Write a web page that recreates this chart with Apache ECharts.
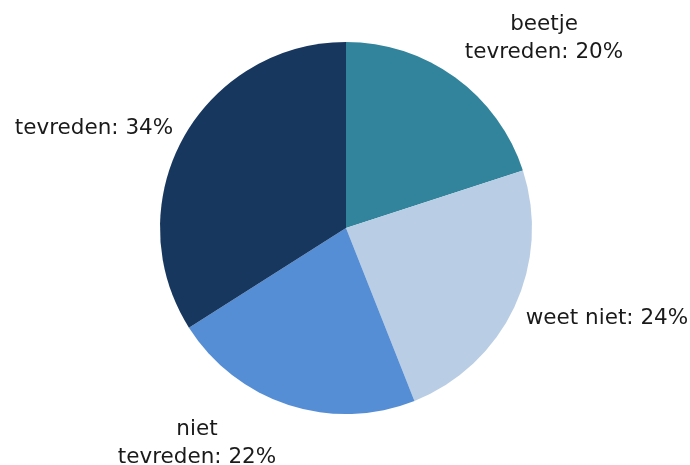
<!DOCTYPE html>
<html>
<head>
<meta charset="utf-8">
<script src="https://cdn.jsdelivr.net/npm/echarts@6/dist/echarts.min.js"></script>
<style>
  html, body { margin: 0; padding: 0; background: #fff; }
  #chart { width: 690px; height: 465px; }
</style>
</head>
<body>
<div id="chart"></div>
<script>
const categories = ['beetje\ntevreden', 'weet niet', 'niet\ntevreden', 'tevreden']
const values = [20, 24, 22, 34]
const colors = ['#31849B', '#B9CDE5', '#558ED5', '#17375E']

// label anchors (centre of each label block), as placed in the original
const labelSpots = [[544, 38], [607, 318], [197, 443], [94, 128]]

const chart = echarts.init(document.getElementById('chart'))

chart.setOption({
  animation: false,
  series: [{
    type: 'pie',
    center: [346, 228],
    radius: 186,
    startAngle: 90,
    clockwise: true,
    data: categories.map((name, i) => ({
      name: name,
      value: values[i],
      itemStyle: { color: colors[i] }
    })),
    label: {
      show: true,
      position: 'outside',
      formatter: p => p.name + ': ' + p.value + '%',
      fontFamily: 'DejaVu Sans',
      fontSize: 21.5,
      color: '#1a1a1a',
      lineHeight: 28,
      align: 'center',
      overflow: 'none'
    },
    labelLine: { show: false },
    labelLayout: p => ({
      x: labelSpots[p.dataIndex][0],
      y: labelSpots[p.dataIndex][1],
      align: 'center',
      verticalAlign: 'middle'
    }),
    emphasis: { disabled: true }
  }]
})
</script>
</body>
</html>
